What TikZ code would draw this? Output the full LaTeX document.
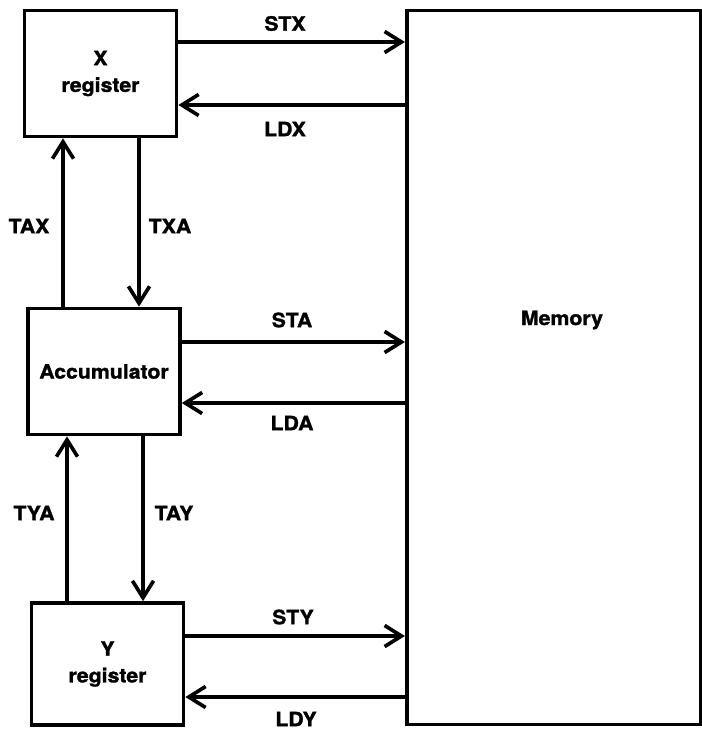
\documentclass[tikz,border=0pt]{standalone}
\usepackage{fontspec}
\newfontfamily\diafont[FakeStretch=1.08, BoldFeatures={FakeBold=1.4}]{TeX Gyre Heros}
\usetikzlibrary{arrows.meta}

\begin{document}
\begin{tikzpicture}[x=0.025cm, y=-0.025cm, line width=2.6pt,
    >={Straight Barb[length=12pt, width=15pt, line width=2.6pt]},
    reg/.style={draw, align=center, minimum width=3.8cm, minimum height=3.15cm,
      font=\diafont\bfseries\fontsize{14}{19}\selectfont},
    tag/.style={font=\diafont\bfseries\fontsize{14}{17}\selectfont, inner sep=0pt}]
  \useasboundingbox (0,0) rectangle (702,729);
  % registers and memory
  \node[reg] (xreg) at (100.5,73.5) {X\\register};
  \node[reg] (acc) at (104,371.5) {Accumulator};
  \node[reg, minimum height=3.05cm] (yreg) at (107.5,664) {Y\\register};
  \node[draw, minimum width=7.36cm, minimum height=17.85cm] (memory) at (554,367.5) {};
  \node[tag] (memlbl) at (562,320) {Memory};
  % store and load paths
  \draw[->] (xreg.east |- 0,42) -- (memory.west |- 0,42);
  \draw[->] (memory.west |- 0,105) -- (xreg.east |- 0,105);
  \draw[->] (acc.east |- 0,342) -- (memory.west |- 0,342);
  \draw[->] (memory.west |- 0,403) -- (acc.east |- 0,403);
  \draw[->] (yreg.east |- 0,636) -- (memory.west |- 0,636);
  \draw[->] (memory.west |- 0,697) -- (yreg.east |- 0,697);
  \node[tag] (stx) at (285,23.5) {STX};
  \node[tag] (ldx) at (285,129) {LDX};
  \node[tag] (sta) at (292,320) {STA};
  \node[tag] (lda) at (292,423) {LDA};
  \node[tag] (sty) at (293,617) {STY};
  \node[tag] (ldy) at (296,719) {LDY};
  % transfers
  \draw[->] (acc.north -| 63,0) -- (xreg.south -| 63,0);
  \draw[->] (xreg.south -| 139,0) -- (acc.north -| 139,0);
  \draw[->] (yreg.north -| 67,0) -- (acc.south -| 67,0);
  \draw[->] (acc.south -| 143,0) -- (yreg.north -| 143,0);
  \node[tag] (tax) at (29,226) {TAX};
  \node[tag] (txa) at (170,226) {TXA};
  \node[tag] (tya) at (34,513) {TYA};
  \node[tag] (tay) at (174,513) {TAY};
\end{tikzpicture}
\end{document}
